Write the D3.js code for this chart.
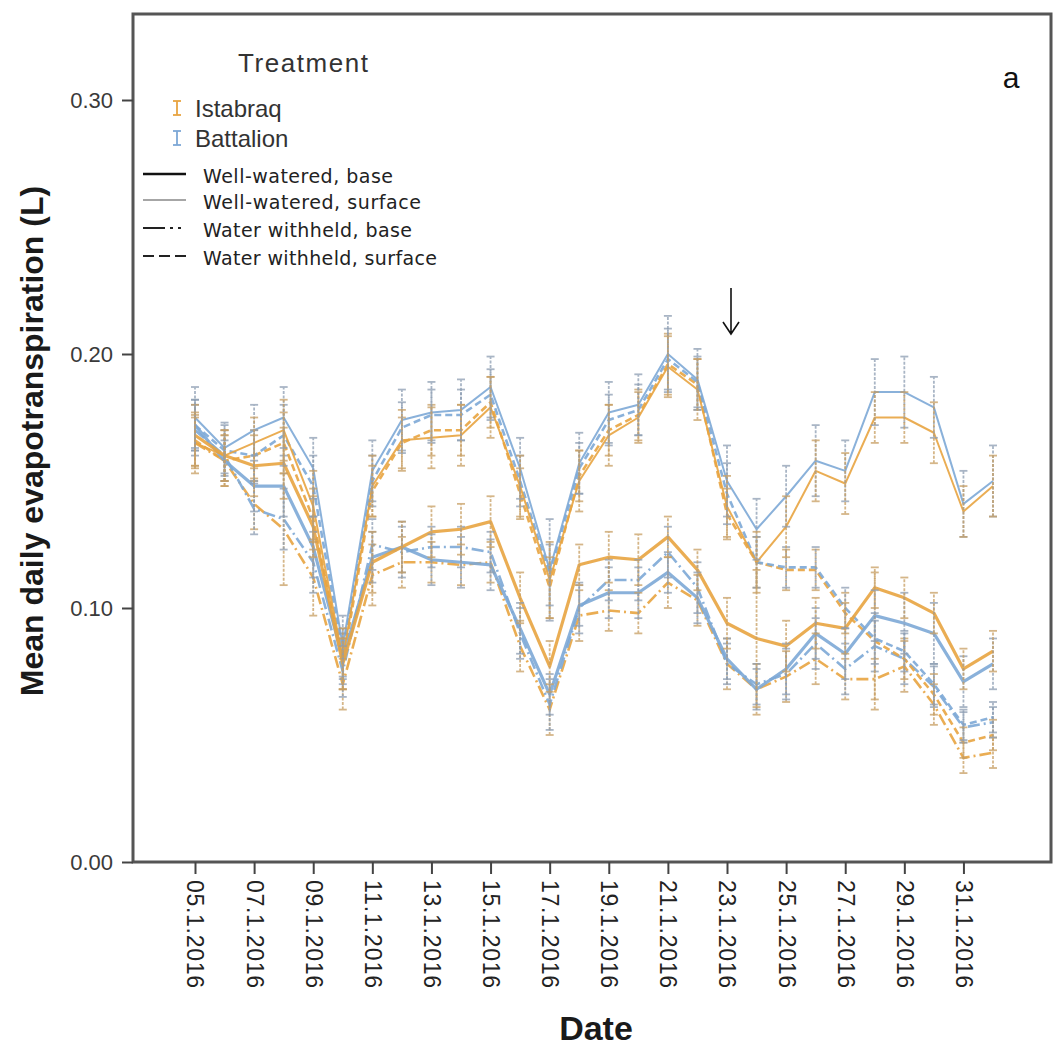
<!DOCTYPE html>
<html>
<head>
<meta charset="utf-8">
<script src="https://cdn.jsdelivr.net/npm/d3@7"></script>
<style>
  body { margin: 0; background: #fff; }
  svg { display: block; }
</style>
</head>
<body>
<svg id="chart" width="1055" height="1046"></svg>
<script>
// ---- data ---------------------------------------------------------------
const dates = [
  "05.1.2016","06.1.2016","07.1.2016","08.1.2016","09.1.2016","10.1.2016","11.1.2016",
  "12.1.2016","13.1.2016","14.1.2016","15.1.2016","16.1.2016","17.1.2016","18.1.2016",
  "19.1.2016","20.1.2016","21.1.2016","22.1.2016","23.1.2016","24.1.2016","25.1.2016",
  "26.1.2016","27.1.2016","28.1.2016","29.1.2016","30.1.2016","31.1.2016","01.2.2016"
];
const tickLabels = [
  "05.1.2016","07.1.2016","09.1.2016","11.1.2016","13.1.2016","15.1.2016","17.1.2016",
  "19.1.2016","21.1.2016","23.1.2016","25.1.2016","27.1.2016","29.1.2016","31.1.2016"
];
const yTicks = [0, 0.10, 0.20, 0.30];

const cultivars = ["Istabraq", "Battalion"];
const treatments = ["Well-watered, base", "Well-watered, surface", "Water withheld, base", "Water withheld, surface"];

// mean daily evapotranspiration (L)
const istabraqWWBase = [0.168,0.160,0.156,0.157,0.132,0.078,0.118,0.124,0.130,0.131,0.134,0.104,0.077,0.117,0.120,0.119,0.128,0.115,0.094,0.088,0.085,0.094,0.092,0.108,0.104,0.098,0.076,0.083];
const battalionWWBase = [0.172,0.158,0.148,0.148,0.124,0.080,0.120,0.124,0.119,0.118,0.117,0.092,0.066,0.101,0.106,0.106,0.114,0.104,0.080,0.068,0.076,0.090,0.082,0.097,0.094,0.090,0.071,0.078];
const istabraqWWSurface = [0.165,0.160,0.165,0.170,0.140,0.080,0.148,0.166,0.167,0.168,0.179,0.148,0.111,0.150,0.168,0.175,0.195,0.186,0.140,0.118,0.132,0.154,0.149,0.175,0.175,0.169,0.138,0.148];
const battalionWWSurface = [0.175,0.163,0.170,0.175,0.155,0.085,0.154,0.174,0.177,0.178,0.187,0.155,0.115,0.157,0.177,0.180,0.200,0.190,0.150,0.131,0.144,0.158,0.154,0.185,0.185,0.179,0.141,0.150];
const istabraqWHBase = [0.165,0.158,0.141,0.131,0.112,0.070,0.113,0.118,0.118,0.117,0.118,0.085,0.060,0.097,0.099,0.098,0.110,0.103,0.078,0.068,0.073,0.080,0.072,0.072,0.077,0.062,0.041,0.043];
const battalionWHBase = [0.170,0.160,0.139,0.135,0.118,0.075,0.125,0.122,0.124,0.124,0.122,0.090,0.062,0.100,0.111,0.111,0.122,0.108,0.078,0.070,0.074,0.086,0.076,0.085,0.080,0.069,0.053,0.055];
const istabraqWHSurface = [0.166,0.158,0.160,0.165,0.135,0.078,0.146,0.165,0.170,0.170,0.181,0.145,0.108,0.152,0.170,0.176,0.196,0.188,0.137,0.118,0.115,0.115,0.098,0.087,0.080,0.066,0.047,0.050];
const battalionWHSurface = [0.172,0.162,0.160,0.168,0.148,0.082,0.150,0.171,0.176,0.176,0.184,0.150,0.113,0.155,0.174,0.178,0.198,0.189,0.145,0.118,0.116,0.116,0.100,0.088,0.083,0.070,0.054,0.057];

// error bar half-widths (L)
const istabraqWWBaseErr = [0.012,0.010,0.012,0.014,0.012,0.010,0.012,0.010,0.010,0.010,0.010,0.010,0.010,0.008,0.010,0.010,0.008,0.008,0.010,0.027,0.010,0.010,0.010,0.008,0.008,0.008,0.008,0.008];
const battalionWWBaseErr = [0.010,0.008,0.010,0.012,0.012,0.010,0.010,0.010,0.010,0.010,0.010,0.010,0.008,0.008,0.010,0.010,0.008,0.010,0.008,0.008,0.010,0.010,0.010,0.010,0.012,0.012,0.010,0.010];
const istabraqWWSurfaceErr = [0.012,0.010,0.010,0.012,0.014,0.012,0.012,0.012,0.012,0.012,0.012,0.012,0.015,0.012,0.012,0.010,0.012,0.012,0.012,0.012,0.012,0.012,0.012,0.010,0.010,0.012,0.010,0.012];
const battalionWWSurfaceErr = [0.012,0.010,0.010,0.012,0.012,0.012,0.012,0.012,0.012,0.012,0.012,0.012,0.020,0.012,0.012,0.012,0.015,0.012,0.014,0.012,0.012,0.014,0.012,0.013,0.014,0.012,0.013,0.014];
const istabraqWHBaseErr = [0.010,0.010,0.010,0.022,0.015,0.010,0.012,0.010,0.008,0.008,0.008,0.010,0.010,0.010,0.008,0.008,0.010,0.010,0.010,0.010,0.010,0.010,0.008,0.008,0.010,0.008,0.006,0.006];
const battalionWHBaseErr = [0.010,0.010,0.010,0.012,0.012,0.010,0.010,0.010,0.008,0.008,0.008,0.010,0.010,0.010,0.008,0.008,0.010,0.010,0.008,0.008,0.010,0.010,0.010,0.010,0.010,0.008,0.006,0.006];
const istabraqWHSurfaceErr = [0.010,0.010,0.010,0.012,0.012,0.010,0.010,0.010,0.010,0.010,0.010,0.010,0.012,0.010,0.010,0.010,0.012,0.010,0.010,0.010,0.008,0.008,0.008,0.027,0.008,0.008,0.006,0.006];
const battalionWHSurfaceErr = [0.010,0.010,0.010,0.012,0.012,0.010,0.010,0.010,0.010,0.010,0.010,0.010,0.012,0.010,0.010,0.010,0.012,0.010,0.012,0.010,0.008,0.008,0.008,0.010,0.008,0.008,0.006,0.006];

const series = [
  { cultivar: "Istabraq",  treatment: treatments[2], values: istabraqWHBase,     err: istabraqWHBaseErr },
  { cultivar: "Battalion", treatment: treatments[2], values: battalionWHBase,    err: battalionWHBaseErr },
  { cultivar: "Istabraq",  treatment: treatments[3], values: istabraqWHSurface,  err: istabraqWHSurfaceErr },
  { cultivar: "Battalion", treatment: treatments[3], values: battalionWHSurface, err: battalionWHSurfaceErr },
  { cultivar: "Battalion", treatment: treatments[0], values: battalionWWBase,    err: battalionWWBaseErr },
  { cultivar: "Istabraq",  treatment: treatments[0], values: istabraqWWBase,     err: istabraqWWBaseErr },
  { cultivar: "Battalion", treatment: treatments[1], values: battalionWWSurface, err: battalionWWSurfaceErr },
  { cultivar: "Istabraq",  treatment: treatments[1], values: istabraqWWSurface,  err: istabraqWWSurfaceErr }
];

// ---- styles -------------------------------------------------------------
const cultivarColor = d3.scaleOrdinal().domain(cultivars).range(["#E8A441", "#7DA8D6"]);
const barColor = d3.scaleOrdinal().domain(cultivars).range(["#C79E62", "#8C9DB2"]);
const lineStyle = {
  "Well-watered, base":      { width: 3.2, dash: null },
  "Well-watered, surface":   { width: 2.0, dash: null },
  "Water withheld, base":    { width: 2.6, dash: "12,4,2,4" },
  "Water withheld, surface": { width: 2.6, dash: "7,4" }
};
const sans = "'Liberation Sans', Arial, sans-serif";

// ---- scales -------------------------------------------------------------
const svg = d3.select("#chart");
const x = d3.scalePoint().domain(dates).range([195, 993]);
const y = d3.scaleLinear().domain([0, 0.30]).range([862, 100]);
const frame = { left: 133, top: 14, right: 1051, bottom: y(0) };

// blur for the plotted marks
const defs = svg.append("defs");
defs.append("filter").attr("id", "soft")
  .append("feGaussianBlur").attr("stdDeviation", 0.6);

// ---- marks --------------------------------------------------------------
const marks = svg.append("g").attr("filter", "url(#soft)");
const line = d3.line().x((d, i) => x(dates[i])).y(d => y(d));

marks.selectAll("path.series")
  .data(series)
  .join("path")
  .attr("class", "series")
  .attr("d", s => line(s.values))
  .attr("fill", "none")
  .attr("stroke", s => cultivarColor(s.cultivar))
  .attr("stroke-width", s => lineStyle[s.treatment].width)
  .attr("stroke-dasharray", s => lineStyle[s.treatment].dash)
  .attr("stroke-linejoin", "round")
  .attr("opacity", 0.9);

const bars = marks.selectAll("g.bars")
  .data(series)
  .join("g")
  .attr("class", "bars")
  .attr("stroke", s => barColor(s.cultivar))
  .attr("stroke-width", 1.8)
  .attr("opacity", 0.75);

bars.each(function (s) {
  const g = d3.select(this);
  const pts = s.values.map((v, i) => ({ cx: x(dates[i]), lo: y(v - s.err[i]), hi: y(v + s.err[i]) }));
  g.selectAll("line.stem").data(pts).join("line").attr("class", "stem")
    .attr("x1", d => d.cx).attr("x2", d => d.cx)
    .attr("y1", d => d.lo).attr("y2", d => d.hi)
    .attr("stroke-dasharray", "3,1.5");
  g.selectAll("line.capHi").data(pts).join("line").attr("class", "capHi")
    .attr("x1", d => d.cx - 4).attr("x2", d => d.cx + 4)
    .attr("y1", d => d.hi).attr("y2", d => d.hi);
  g.selectAll("line.capLo").data(pts).join("line").attr("class", "capLo")
    .attr("x1", d => d.cx - 4).attr("x2", d => d.cx + 4)
    .attr("y1", d => d.lo).attr("y2", d => d.lo);
});

// ---- frame & axes -------------------------------------------------------
svg.append("rect")
  .attr("x", frame.left).attr("y", frame.top)
  .attr("width", frame.right - frame.left).attr("height", frame.bottom - frame.top)
  .attr("fill", "none").attr("stroke", "#555").attr("stroke-width", 3);

const gy = svg.append("g")
  .attr("transform", `translate(${frame.left},0)`)
  .call(d3.axisLeft(y).tickValues(yTicks).tickFormat(d3.format(".2f")).tickSize(11).tickPadding(9));
gy.select(".domain").remove();
gy.selectAll(".tick line").attr("stroke", "#444").attr("stroke-width", 2);
gy.selectAll(".tick text")
  .attr("font-family", sans).attr("font-size", 22).attr("fill", "#3a3a3a");

const gx = svg.append("g")
  .attr("transform", `translate(0,${frame.bottom})`)
  .call(d3.axisBottom(x).tickValues(tickLabels).tickSize(12).tickPadding(0));
gx.select(".domain").remove();
gx.selectAll(".tick line").attr("stroke", "#444").attr("stroke-width", 2);
gx.selectAll(".tick text")
  .attr("transform", "rotate(90)")
  .attr("text-anchor", "start")
  .attr("x", 18).attr("y", 0).attr("dy", "0.35em")
  .attr("textLength", 108).attr("lengthAdjust", "spacing")
  .attr("font-family", sans).attr("font-size", 23).attr("fill", "#222");

// axis titles
svg.append("text")
  .attr("transform", "translate(43,441) rotate(-90)")
  .attr("text-anchor", "middle")
  .attr("font-family", sans).attr("font-size", 32).attr("font-weight", "bold")
  .attr("fill", "#1a1a1a")
  .text("Mean daily evapotranspiration (L)");

svg.append("text")
  .attr("x", 596).attr("y", 1040)
  .attr("text-anchor", "middle")
  .attr("font-family", sans).attr("font-size", 34).attr("font-weight", "bold")
  .attr("fill", "#1a1a1a")
  .text("Date");

// panel letter
svg.append("text")
  .attr("x", 1011).attr("y", 88)
  .attr("text-anchor", "middle")
  .attr("font-family", sans).attr("font-size", 30)
  .attr("fill", "#111")
  .text("a");

// arrow marking 23.1.2016
const ax = x("23.1.2016") + 4;
svg.append("path")
  .attr("d", `M${ax},288 L${ax},334 M${ax - 8},322 L${ax},334 L${ax + 8},322`)
  .attr("fill", "none").attr("stroke", "#111").attr("stroke-width", 1.6);

// ---- legend -------------------------------------------------------------
const legend = svg.append("g");
legend.append("text")
  .attr("x", 238).attr("y", 72)
  .attr("font-family", sans).attr("font-size", 26).attr("fill", "#333")
  .attr("textLength", 130).attr("lengthAdjust", "spacing")
  .text("Treatment");

cultivars.forEach((c, i) => {
  const cy = 108 + i * 30;
  const g = legend.append("g").attr("stroke", cultivarColor(c)).attr("stroke-width", 1.8);
  g.append("line").attr("x1", 177).attr("x2", 177).attr("y1", cy - 7).attr("y2", cy + 7);
  g.append("line").attr("x1", 173).attr("x2", 181).attr("y1", cy - 7).attr("y2", cy - 7);
  g.append("line").attr("x1", 173).attr("x2", 181).attr("y1", cy + 7).attr("y2", cy + 7);
  legend.append("text")
    .attr("x", 195).attr("y", cy + 9)
    .attr("font-family", sans).attr("font-size", 24).attr("fill", "#333")
    .text(c);
});

const legendKeys = [
  { t: treatments[0], stroke: "#111", width: 2.4, dash: null,            len: 190 },
  { t: treatments[1], stroke: "#888", width: 1.4, dash: null,            len: 218 },
  { t: treatments[2], stroke: "#222", width: 2.0, dash: "22,5,3,5,3,5", len: 209 },
  { t: treatments[3], stroke: "#222", width: 2.0, dash: "11,5",          len: 234 }
];
legendKeys.forEach((k, i) => {
  const ly = [174, 200, 228, 256][i];
  legend.append("line")
    .attr("x1", 143).attr("x2", 186).attr("y1", ly).attr("y2", ly)
    .attr("stroke", k.stroke).attr("stroke-width", k.width)
    .attr("stroke-dasharray", k.dash);
  legend.append("text")
    .attr("x", 203).attr("y", ly + 9)
    .attr("font-family", "'DejaVu Sans', Verdana, sans-serif").attr("font-size", 19)
    .attr("textLength", k.len).attr("lengthAdjust", "spacing")
    .attr("fill", "#222")
    .text(k.t);
});
</script>
</body>
</html>
